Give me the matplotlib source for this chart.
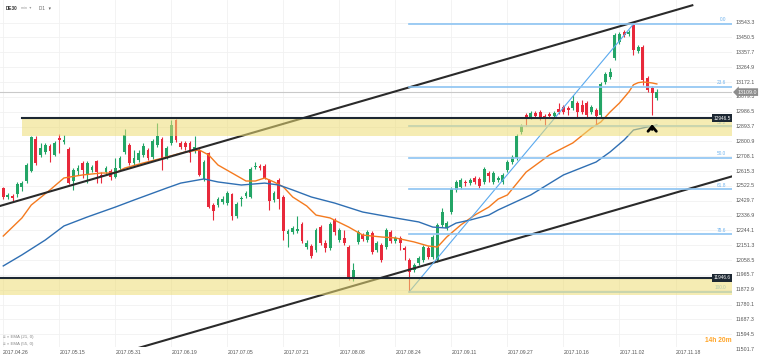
import matplotlib

matplotlib.use("Agg")
import matplotlib.pyplot as plt
import matplotlib.transforms as mtransforms
from matplotlib.patches import Rectangle
import numpy as np

# daily DE30 candles, bar 0 = 2017.04.26
OPEN = [12509, 12453, 12459, 12472, 12516, 12553, 12616, 12816, 12716, 12735,
        12772, 12716, 12822, 12797, 12753, 12553, 12616, 12666, 12591, 12622,
        12678, 12591, 12609, 12616, 12578, 12634, 12735, 12778, 12666, 12684,
        12716, 12747, 12703, 12778, 12816, 12703, 12791, 12935, 12791, 12791,
        12791, 12741, 12747, 12566, 12728, 12403, 12403, 12422, 12415, 12472,
        12334, 12440, 12459, 12453, 12641, 12647, 12647, 12559, 12434, 12559,
        12453, 12222, 12234, 12240, 12284, 12140, 12147, 12122, 12265, 12165,
        12134, 12309, 12184, 12197, 12140, 11940, 12172, 12215, 12184, 12228,
        12122, 12153, 12140, 12234, 12178, 12197, 12134, 12059, 11997, 12040,
        12059, 12134, 12078, 12059, 12278, 12259, 12359, 12497, 12516, 12547,
        12540, 12572, 12566, 12547, 12603, 12547, 12559, 12547, 12622, 12672,
        12697, 12860, 12966, 12953, 12978, 12985, 12960, 12972, 12960, 13003,
        13016, 13010, 13010, 13041, 13028, 13041, 12985, 12997, 12966, 13172,
        13204, 13322, 13423, 13485, 13473, 13529, 13366, 13391, 13197, 13135,
        13072]
HIGH = [12516, 12478, 12472, 12547, 12553, 12666, 12835, 12835, 12791, 12791,
        12785, 12803, 12847, 12841, 12766, 12634, 12653, 12678, 12678, 12653,
        12684, 12609, 12647, 12628, 12697, 12709, 12878, 12791, 12747, 12747,
        12791, 12760, 12816, 12916, 12828, 12772, 12935, 12941, 12803, 12803,
        12803, 12835, 12760, 12684, 12735, 12415, 12453, 12459, 12490, 12478,
        12422, 12459, 12490, 12641, 12672, 12659, 12659, 12566, 12490, 12572,
        12466, 12253, 12272, 12334, 12297, 12184, 12159, 12259, 12278, 12184,
        12297, 12322, 12259, 12247, 12153, 12040, 12247, 12228, 12247, 12240,
        12178, 12165, 12259, 12247, 12209, 12209, 12147, 12072, 12040, 12084,
        12153, 12147, 12215, 12290, 12384, 12303, 12516, 12559, 12572, 12559,
        12572, 12584, 12578, 12641, 12616, 12616, 12584, 12603, 12684, 12716,
        12847, 12910, 12978, 12991, 12991, 12997, 12972, 12985, 12991, 13041,
        13028, 13022, 13091, 13053, 13060, 13053, 13028, 13010, 13172, 13235,
        13260, 13479, 13485, 13498, 13498, 13535, 13404, 13404, 13210, 13147,
        13129]
LOW = [12440, 12440, 12428, 12453, 12490, 12540, 12609, 12653, 12703, 12722,
       12672, 12709, 12728, 12785, 12534, 12497, 12591, 12572, 12540, 12609,
       12540, 12540, 12591, 12559, 12572, 12622, 12722, 12653, 12653, 12672,
       12703, 12684, 12691, 12766, 12622, 12691, 12778, 12797, 12753, 12747,
       12672, 12728, 12584, 12553, 12384, 12309, 12390, 12409, 12403, 12309,
       12322, 12397, 12447, 12447, 12628, 12622, 12566, 12372, 12422, 12378,
       12184, 12140, 12222, 12228, 12165, 12128, 12072, 12109, 12153, 12109,
       12122, 12215, 12172, 12153, 11934, 11928, 12159, 12178, 12172, 12097,
       12109, 12046, 12128, 12165, 12165, 12122, 12059, 11862, 11984, 12028,
       12046, 12065, 12065, 12046, 12265, 12247, 12347, 12484, 12503, 12522,
       12528, 12534, 12509, 12534, 12547, 12534, 12547, 12534, 12609, 12659,
       12684, 12847, 12897, 12941, 12947, 12935, 12897, 12947, 12947, 12972,
       12972, 12966, 12997, 12947, 12972, 12947, 12972, 12903, 12953, 13160,
       13191, 13310, 13410, 13454, 13460, 13341, 13354, 13154, 13110, 12966,
       13060]
CLOSE = [12453, 12466, 12447, 12534, 12540, 12653, 12828, 12666, 12760, 12778,
         12741, 12791, 12810, 12810, 12540, 12622, 12634, 12622, 12666, 12641,
         12609, 12578, 12634, 12578, 12634, 12697, 12841, 12666, 12697, 12728,
         12772, 12697, 12803, 12835, 12697, 12760, 12903, 12810, 12766, 12766,
         12728, 12766, 12591, 12672, 12390, 12365, 12440, 12440, 12478, 12334,
         12409, 12447, 12478, 12628, 12647, 12634, 12572, 12428, 12478, 12440,
         12240, 12240, 12259, 12253, 12178, 12165, 12084, 12247, 12165, 12134,
         12284, 12234, 12247, 12165, 11947, 11997, 12234, 12190, 12234, 12109,
         12165, 12059, 12247, 12178, 12197, 12165, 12122, 11984, 12028, 12072,
         12140, 12078, 12203, 12278, 12359, 12290, 12503, 12547, 12559, 12540,
         12559, 12547, 12522, 12628, 12584, 12603, 12572, 12591, 12672, 12703,
         12835, 12897, 12947, 12978, 12960, 12947, 12953, 12960, 12978, 12985,
         12985, 12997, 13053, 12985, 12985, 12966, 13016, 12960, 13160, 13222,
         13235, 13466, 13473, 13466, 13485, 13373, 13391, 13185, 13122, 13103,
         13110]

EMA21_BARS = [0, 4, 6, 10, 13, 17, 21, 24, 26, 30, 35, 39, 42, 44, 46, 49, 52,
              54, 56, 58, 60, 62, 65, 67, 70, 74, 77, 81, 84, 88, 91, 93, 95,
              98, 101, 104, 106, 108, 112, 117, 122, 126, 128, 130, 132, 134,
              135, 136, 137, 138, 139, 140]
EMA21 = [12209, 12322, 12403, 12497, 12572, 12591, 12603, 12603, 12634, 12666,
         12703, 12735, 12747, 12716, 12653, 12603, 12553, 12553, 12572, 12547,
         12516, 12453, 12397, 12340, 12322, 12265, 12215, 12203, 12197, 12172,
         12147, 12140, 12203, 12278, 12340, 12390, 12440, 12466, 12609, 12716,
         12791, 12885, 12922, 12985, 13041, 13110, 13155, 13168, 13172, 13170,
         13166, 13160]
EMA55_BARS = [0, 4, 9, 13, 18, 24, 28, 35, 38, 43, 46, 51, 56, 59, 62, 66, 71,
              77, 84, 89, 92, 95, 97, 100, 104, 106, 113, 120, 127, 130, 133,
              135, 138, 140]
EMA55 = [12022, 12091, 12184, 12272, 12328, 12390, 12434, 12509, 12540, 12566,
         12547, 12528, 12540, 12528, 12497, 12453, 12415, 12359, 12322, 12297,
         12265, 12259, 12290, 12309, 12340, 12372, 12466, 12591, 12672, 12735,
         12810, 12872, 12891, 12903]

PRICE_TICKS = [13543.3, 13450.5, 13357.7, 13264.9, 13172.1, 13079.3, 12986.5,
               12893.7, 12800.9, 12708.1, 12615.3, 12522.5, 12429.7, 12336.9,
               12244.1, 12151.3, 12058.5, 11965.7, 11872.9, 11780.1, 11687.3,
               11594.5, 11501.7]
DATE_BARS = [0, 12, 24, 36, 48, 60, 72, 84, 96, 108, 120, 132, 144]
DATE_LABELS = ["2017.04.26", "2017.05.15", "2017.05.31", "2017.06.19",
               "2017.07.05", "2017.07.21", "2017.08.08", "2017.08.24",
               "2017.09.11", "2017.09.27", "2017.10.16", "2017.11.02",
               "2017.11.18"]

FIB_LOW_BAR, FIB_LOW = 87, 11862
FIB_HIGH_BAR, FIB_HIGH = 135, 13535
FIB_RATIOS = [0.0, 23.6, 38.2, 50.0, 61.8, 78.6, 100.0]

RESISTANCE = 12946.5
SUPPORT = 11946.6
UPPER_ZONE = (4.0, 12832, RESISTANCE)
LOWER_ZONE = (-0.7, 11840, SUPPORT)
UPPER_CHANNEL = ([-0.7, 147.6], [12397, 13652])
LOWER_CHANNEL = ([27.3, 156.1], [11495, 12582])
LAST_PRICE = 13109.0

XMIN, XMAX = -0.7, 156.1
YMIN, YMAX = 11515, 13685

UP = "#23a566"
DOWN = "#e8293b"

plt.rcParams["font.family"] = ["Liberation Sans", "DejaVu Sans"]

W, H = 760, 360
fig = plt.figure(figsize=(W / 100, H / 100), dpi=100, facecolor="white")
ax = fig.add_axes([0, 13 / H, 732 / W, 347 / H])
ax.set_xlim(XMIN, XMAX)
ax.set_ylim(YMIN, YMAX)
ax.axis("off")

# grid
for p in PRICE_TICKS:
    ax.axhline(p, color="#f1f1f1", lw=0.6, zorder=0)
for b in DATE_BARS:
    ax.axvline(b, color="#f1f1f1", lw=0.6, zorder=0)

ax.axhline(LAST_PRICE, color="#c9c9c9", lw=0.8, zorder=1)

# candles
o = np.array(OPEN, float)
c = np.array(CLOSE, float)
bars = np.arange(len(c))
colors = [UP if cc >= oo else DOWN for oo, cc in zip(o, c)]
ax.vlines(bars, LOW, HIGH, colors=colors, lw=0.8, zorder=3)
ax.bar(bars, np.maximum(np.abs(c - o), 5), bottom=np.minimum(o, c),
       width=0.62, color=colors, linewidth=0, zorder=3)

# moving averages
ax.plot(EMA21_BARS, EMA21, color="#f47a1f", lw=1.0, zorder=4)
ax.plot(EMA55_BARS, EMA55, color="#2f6fb3", lw=1.0, zorder=4)

# channel
ax.plot(*UPPER_CHANNEL, color="#2a2a2a", lw=1.5, zorder=5)
ax.plot(*LOWER_CHANNEL, color="#2a2a2a", lw=1.5, zorder=5)

# fibonacci
ax.plot([FIB_LOW_BAR, FIB_HIGH_BAR], [FIB_LOW, FIB_HIGH], color="#5aa9ee",
        lw=0.8, zorder=5)
for r in FIB_RATIOS:
    lvl = FIB_HIGH - r / 100 * (FIB_HIGH - FIB_LOW)
    ax.plot([FIB_LOW_BAR, XMAX], [lvl, lvl], color="#8cc4f2", lw=1.2, zorder=5)
    ax.annotate(f"{r:.1f}", xy=(726 / 732, lvl), xycoords=("axes fraction", "data"),
                xytext=(0, 1.2), textcoords="offset points", ha="right", va="bottom",
                fontsize=3.4, color="#6fb3ee", zorder=6)

# support / resistance zones drawn over the candles
for x0, lo, hi in (UPPER_ZONE, LOWER_ZONE):
    ax.add_patch(Rectangle((x0, lo), XMAX - x0, hi - lo, facecolor="#eddd75",
                           alpha=0.55, edgecolor="none", zorder=6))
ax.plot([UPPER_ZONE[0], XMAX], [RESISTANCE, RESISTANCE], color="#1d2833", lw=1.5, zorder=7)
ax.plot([XMIN, XMAX], [SUPPORT, SUPPORT], color="#1d2833", lw=1.5, zorder=7)

ax.annotate("", xy=(139, 12925), xytext=(139, 12858),
            arrowprops=dict(arrowstyle="->,head_length=0.35,head_width=0.3",
                            color="black", lw=2.0), zorder=8)

# right price scale
blend = mtransforms.blended_transform_factory(fig.transFigure, ax.transData)
for p in PRICE_TICKS:
    fig.text(736 / W, p, f"{p:.1f}", transform=blend, ha="left", va="center",
             fontsize=3.8, color="#555555")
fig.text(747 / W, LAST_PRICE, f"{LAST_PRICE:.1f}", transform=blend, ha="center",
         va="center", fontsize=3.8, color="white",
         bbox=dict(boxstyle="larrow,pad=0.25", fc="#8d8d8d", ec="none"))
for lvl in (RESISTANCE, SUPPORT):
    fig.text(722 / W, lvl, f"{lvl:.1f}", transform=blend, ha="center", va="center",
             fontsize=3.4, color="white",
             bbox=dict(boxstyle="square,pad=0.25", fc="#1d2833", ec="none"))

# date axis
xblend = mtransforms.blended_transform_factory(ax.transData, fig.transFigure)
for b, lab in zip(DATE_BARS, DATE_LABELS):
    fig.text(b, 7 / H, lab, transform=xblend, ha="left", va="center",
             fontsize=3.7, color="#555555")

# header, legend, countdown
fig.text(6 / W, 1 - 8 / H, "DE30", ha="left", va="center", fontsize=3.3,
         fontweight="bold", color="#333333")
fig.text(21 / W, 1 - 8 / H, "min  \u25be", ha="left", va="center", fontsize=2.8,
         color="#9a9a9a")
fig.text(39 / W, 1 - 8 / H, "D1   \u25be", ha="left", va="center", fontsize=3.3,
         color="#666666")
fig.text(3 / W, 1 - 337 / H, "\u2261 \u00d7 EMA (21, 0)", ha="left", va="center",
         fontsize=3.2, color="#888888")
fig.text(3 / W, 1 - 344 / H, "\u2261 \u00d7 EMA (55, 0)", ha="left", va="center",
         fontsize=3.2, color="#888888")
fig.text(732 / W, 1 - 341 / H, "14h 20m", ha="right", va="center", fontsize=4.8,
         fontweight="bold", color="#ffa426")

fig.savefig("out.png", dpi=100, facecolor="white")
